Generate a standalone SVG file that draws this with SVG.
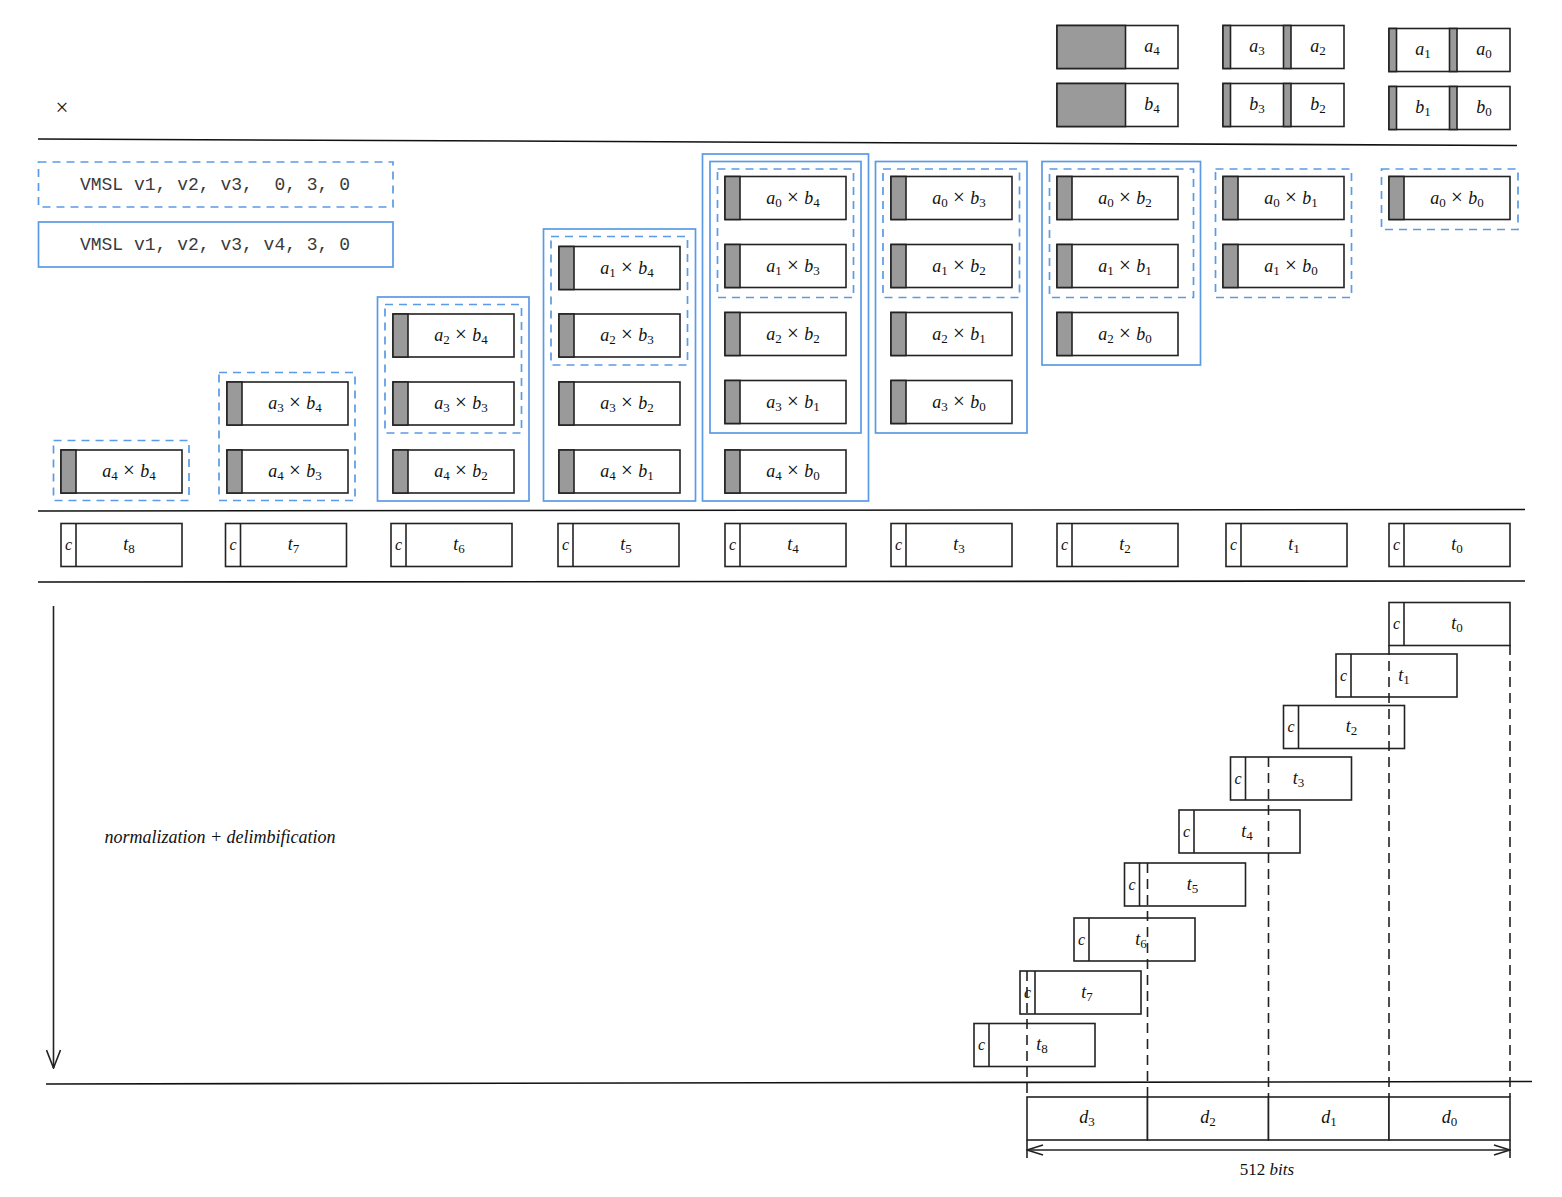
<svg xmlns="http://www.w3.org/2000/svg" width="1562" height="1197" viewBox="0 0 1562 1197">
<style>
.box{fill:#fff;stroke:#222;stroke-width:1.6}
.grey{fill:#9a9a9a;stroke:#222;stroke-width:1.6}
.ln{stroke:#222;stroke-width:1.6;fill:none}
.sep{stroke:#111;stroke-width:1.6;fill:none}
.blue{fill:none;stroke:#5b9ae4;stroke-width:1.7}
.bdash{fill:none;stroke:#5b9ae4;stroke-width:1.7;stroke-dasharray:8 6}
.kdash{fill:none;stroke:#222;stroke-width:1.6;stroke-dasharray:10 6}
.m{font-family:"Liberation Serif","DejaVu Serif",serif;font-size:18px;text-anchor:middle;fill:#111}
.i{font-style:italic}
.s{font-size:13px}
.x{font-size:21px}
.c{font-family:"Liberation Serif","DejaVu Serif",serif;font-size:16px;font-style:italic;text-anchor:middle;fill:#111}
.code{font-family:"Liberation Mono","DejaVu Sans Mono",monospace;font-size:18px;text-anchor:middle;fill:#3a3a3a;white-space:pre}
</style>
<defs>
<g id="pb"><rect class="box" x="0" y="0" width="121" height="43"/><rect class="grey" x="0" y="0" width="15" height="43"/></g>
<g id="tb"><rect class="box" x="0" y="0" width="121" height="43"/><line class="ln" x1="15" y1="0" x2="15" y2="43"/></g>
<marker id="ah" markerUnits="userSpaceOnUse" markerWidth="20" markerHeight="16" viewBox="0 0 20 16" refX="19" refY="8" orient="auto"><path d="M1,1 L19,8 L1,15" fill="none" stroke="#222" stroke-width="1.6"/></marker>
<marker id="ah2" markerUnits="userSpaceOnUse" markerWidth="18" markerHeight="12" viewBox="0 0 18 12" refX="17" refY="6" orient="auto-start-reverse"><path d="M1,1 L17,6 L1,11" fill="none" stroke="#222" stroke-width="1.6"/></marker>
</defs>
<rect x="0" y="0" width="1562" height="1197" fill="#fff"/>

<!-- operands -->
<g id="op-a4"><rect class="box" x="1057" y="25.5" width="121" height="43"/><rect class="grey" x="1057" y="25.5" width="68.5" height="43"/><text class="m" x="1152" y="52"><tspan class="i">a</tspan><tspan class="s" dy="3">4</tspan></text></g>
<g id="op-b4"><rect class="box" x="1057" y="83.5" width="121" height="43"/><rect class="grey" x="1057" y="83.5" width="68.5" height="43"/><text class="m" x="1152" y="110"><tspan class="i">b</tspan><tspan class="s" dy="3">4</tspan></text></g>
<g id="op-a3a2"><rect class="box" x="1223" y="25.5" width="121" height="43"/><rect class="grey" x="1223" y="25.5" width="7.5" height="43"/><rect class="grey" x="1283.5" y="25.5" width="7.5" height="43"/><text class="m" x="1257" y="52"><tspan class="i">a</tspan><tspan class="s" dy="3">3</tspan></text><text class="m" x="1318" y="52"><tspan class="i">a</tspan><tspan class="s" dy="3">2</tspan></text></g>
<g id="op-b3b2"><rect class="box" x="1223" y="83.5" width="121" height="43"/><rect class="grey" x="1223" y="83.5" width="7.5" height="43"/><rect class="grey" x="1283.5" y="83.5" width="7.5" height="43"/><text class="m" x="1257" y="110"><tspan class="i">b</tspan><tspan class="s" dy="3">3</tspan></text><text class="m" x="1318" y="110"><tspan class="i">b</tspan><tspan class="s" dy="3">2</tspan></text></g>
<g id="op-a1a0"><rect class="box" x="1389" y="28.5" width="121" height="43"/><rect class="grey" x="1389" y="28.5" width="7.5" height="43"/><rect class="grey" x="1449.5" y="28.5" width="7.5" height="43"/><text class="m" x="1423" y="55"><tspan class="i">a</tspan><tspan class="s" dy="3">1</tspan></text><text class="m" x="1484" y="55"><tspan class="i">a</tspan><tspan class="s" dy="3">0</tspan></text></g>
<g id="op-b1b0"><rect class="box" x="1389" y="86.5" width="121" height="43"/><rect class="grey" x="1389" y="86.5" width="7.5" height="43"/><rect class="grey" x="1449.5" y="86.5" width="7.5" height="43"/><text class="m" x="1423" y="113"><tspan class="i">b</tspan><tspan class="s" dy="3">1</tspan></text><text class="m" x="1484" y="113"><tspan class="i">b</tspan><tspan class="s" dy="3">0</tspan></text></g>
<g id="times"><text class="m" x="62" y="115" style="font-size:23px">×</text></g>

<!-- instructions -->
<g id="vmsl1"><rect class="bdash" x="38.5" y="162" width="354.5" height="45"/><text class="code" x="215" y="190" xml:space="preserve">VMSL v1, v2, v3,  0, 3, 0</text></g>
<g id="vmsl2"><rect class="blue" x="38.5" y="222" width="354.5" height="45"/><text class="code" x="215" y="250" xml:space="preserve">VMSL v1, v2, v3, v4, 3, 0</text></g>

<!-- blue groupings -->
<g id="groups">
<rect class="bdash" x="53.5" y="440.5" width="135.5" height="60"/>
<rect class="bdash" x="219" y="372.5" width="136" height="128"/>
<rect class="blue" x="377.5" y="297" width="151.5" height="204"/>
<rect class="bdash" x="385" y="304.5" width="136.5" height="128.5"/>
<rect class="blue" x="543.5" y="229" width="152" height="272"/>
<rect class="bdash" x="551" y="236.5" width="136.5" height="128.5"/>
<rect class="blue" x="702.5" y="154" width="166" height="347"/>
<rect class="blue" x="710" y="161.5" width="151" height="271.5"/>
<rect class="bdash" x="717.5" y="169" width="136" height="128.5"/>
<rect class="blue" x="875.5" y="161.5" width="151.5" height="271.5"/>
<rect class="bdash" x="883" y="169" width="136.5" height="128.5"/>
<rect class="blue" x="1042" y="161.5" width="158.5" height="203.5"/>
<rect class="bdash" x="1049.5" y="169" width="144" height="128.5"/>
<rect class="bdash" x="1215.5" y="169" width="136" height="128.5"/>
<rect class="bdash" x="1381.5" y="169" width="136.5" height="60.5"/>
</g>

<!-- products -->
<g id="p44"><use href="#pb" x="61" y="450"/><text class="m" x="129" y="477"><tspan class="i">a</tspan><tspan class="s" dy="3">4</tspan><tspan class="x" dy="-3"> × </tspan><tspan class="i">b</tspan><tspan class="s" dy="3">4</tspan></text></g>

<g id="p34"><use href="#pb" x="227" y="382"/><text class="m" x="295" y="409"><tspan class="i">a</tspan><tspan class="s" dy="3">3</tspan><tspan class="x" dy="-3"> × </tspan><tspan class="i">b</tspan><tspan class="s" dy="3">4</tspan></text></g>
<g id="p43"><use href="#pb" x="227" y="450"/><text class="m" x="295" y="477"><tspan class="i">a</tspan><tspan class="s" dy="3">4</tspan><tspan class="x" dy="-3"> × </tspan><tspan class="i">b</tspan><tspan class="s" dy="3">3</tspan></text></g>

<g id="p24"><use href="#pb" x="393" y="314"/><text class="m" x="461" y="341"><tspan class="i">a</tspan><tspan class="s" dy="3">2</tspan><tspan class="x" dy="-3"> × </tspan><tspan class="i">b</tspan><tspan class="s" dy="3">4</tspan></text></g>
<g id="p33"><use href="#pb" x="393" y="382"/><text class="m" x="461" y="409"><tspan class="i">a</tspan><tspan class="s" dy="3">3</tspan><tspan class="x" dy="-3"> × </tspan><tspan class="i">b</tspan><tspan class="s" dy="3">3</tspan></text></g>
<g id="p42"><use href="#pb" x="393" y="450"/><text class="m" x="461" y="477"><tspan class="i">a</tspan><tspan class="s" dy="3">4</tspan><tspan class="x" dy="-3"> × </tspan><tspan class="i">b</tspan><tspan class="s" dy="3">2</tspan></text></g>

<g id="p14"><use href="#pb" x="559" y="246.5"/><text class="m" x="627" y="273.5"><tspan class="i">a</tspan><tspan class="s" dy="3">1</tspan><tspan class="x" dy="-3"> × </tspan><tspan class="i">b</tspan><tspan class="s" dy="3">4</tspan></text></g>
<g id="p23"><use href="#pb" x="559" y="314"/><text class="m" x="627" y="341"><tspan class="i">a</tspan><tspan class="s" dy="3">2</tspan><tspan class="x" dy="-3"> × </tspan><tspan class="i">b</tspan><tspan class="s" dy="3">3</tspan></text></g>
<g id="p32"><use href="#pb" x="559" y="382"/><text class="m" x="627" y="409"><tspan class="i">a</tspan><tspan class="s" dy="3">3</tspan><tspan class="x" dy="-3"> × </tspan><tspan class="i">b</tspan><tspan class="s" dy="3">2</tspan></text></g>
<g id="p41"><use href="#pb" x="559" y="450"/><text class="m" x="627" y="477"><tspan class="i">a</tspan><tspan class="s" dy="3">4</tspan><tspan class="x" dy="-3"> × </tspan><tspan class="i">b</tspan><tspan class="s" dy="3">1</tspan></text></g>

<g id="p04"><use href="#pb" x="725" y="176.5"/><text class="m" x="793" y="203.5"><tspan class="i">a</tspan><tspan class="s" dy="3">0</tspan><tspan class="x" dy="-3"> × </tspan><tspan class="i">b</tspan><tspan class="s" dy="3">4</tspan></text></g>
<g id="p13"><use href="#pb" x="725" y="244.5"/><text class="m" x="793" y="271.5"><tspan class="i">a</tspan><tspan class="s" dy="3">1</tspan><tspan class="x" dy="-3"> × </tspan><tspan class="i">b</tspan><tspan class="s" dy="3">3</tspan></text></g>
<g id="p22"><use href="#pb" x="725" y="312.5"/><text class="m" x="793" y="339.5"><tspan class="i">a</tspan><tspan class="s" dy="3">2</tspan><tspan class="x" dy="-3"> × </tspan><tspan class="i">b</tspan><tspan class="s" dy="3">2</tspan></text></g>
<g id="p31"><use href="#pb" x="725" y="380.5"/><text class="m" x="793" y="407.5"><tspan class="i">a</tspan><tspan class="s" dy="3">3</tspan><tspan class="x" dy="-3"> × </tspan><tspan class="i">b</tspan><tspan class="s" dy="3">1</tspan></text></g>
<g id="p40"><use href="#pb" x="725" y="450"/><text class="m" x="793" y="477"><tspan class="i">a</tspan><tspan class="s" dy="3">4</tspan><tspan class="x" dy="-3"> × </tspan><tspan class="i">b</tspan><tspan class="s" dy="3">0</tspan></text></g>

<g id="p03"><use href="#pb" x="891" y="176.5"/><text class="m" x="959" y="203.5"><tspan class="i">a</tspan><tspan class="s" dy="3">0</tspan><tspan class="x" dy="-3"> × </tspan><tspan class="i">b</tspan><tspan class="s" dy="3">3</tspan></text></g>
<g id="p12"><use href="#pb" x="891" y="244.5"/><text class="m" x="959" y="271.5"><tspan class="i">a</tspan><tspan class="s" dy="3">1</tspan><tspan class="x" dy="-3"> × </tspan><tspan class="i">b</tspan><tspan class="s" dy="3">2</tspan></text></g>
<g id="p21"><use href="#pb" x="891" y="312.5"/><text class="m" x="959" y="339.5"><tspan class="i">a</tspan><tspan class="s" dy="3">2</tspan><tspan class="x" dy="-3"> × </tspan><tspan class="i">b</tspan><tspan class="s" dy="3">1</tspan></text></g>
<g id="p30"><use href="#pb" x="891" y="380.5"/><text class="m" x="959" y="407.5"><tspan class="i">a</tspan><tspan class="s" dy="3">3</tspan><tspan class="x" dy="-3"> × </tspan><tspan class="i">b</tspan><tspan class="s" dy="3">0</tspan></text></g>

<g id="p02"><use href="#pb" x="1057" y="176.5"/><text class="m" x="1125" y="203.5"><tspan class="i">a</tspan><tspan class="s" dy="3">0</tspan><tspan class="x" dy="-3"> × </tspan><tspan class="i">b</tspan><tspan class="s" dy="3">2</tspan></text></g>
<g id="p11"><use href="#pb" x="1057" y="244.5"/><text class="m" x="1125" y="271.5"><tspan class="i">a</tspan><tspan class="s" dy="3">1</tspan><tspan class="x" dy="-3"> × </tspan><tspan class="i">b</tspan><tspan class="s" dy="3">1</tspan></text></g>
<g id="p20"><use href="#pb" x="1057" y="312.5"/><text class="m" x="1125" y="339.5"><tspan class="i">a</tspan><tspan class="s" dy="3">2</tspan><tspan class="x" dy="-3"> × </tspan><tspan class="i">b</tspan><tspan class="s" dy="3">0</tspan></text></g>

<g id="p01"><use href="#pb" x="1223" y="176.5"/><text class="m" x="1291" y="203.5"><tspan class="i">a</tspan><tspan class="s" dy="3">0</tspan><tspan class="x" dy="-3"> × </tspan><tspan class="i">b</tspan><tspan class="s" dy="3">1</tspan></text></g>
<g id="p10"><use href="#pb" x="1223" y="244.5"/><text class="m" x="1291" y="271.5"><tspan class="i">a</tspan><tspan class="s" dy="3">1</tspan><tspan class="x" dy="-3"> × </tspan><tspan class="i">b</tspan><tspan class="s" dy="3">0</tspan></text></g>

<g id="p00"><use href="#pb" x="1389" y="176.5"/><text class="m" x="1457" y="203.5"><tspan class="i">a</tspan><tspan class="s" dy="3">0</tspan><tspan class="x" dy="-3"> × </tspan><tspan class="i">b</tspan><tspan class="s" dy="3">0</tspan></text></g>

<!-- t row -->
<g id="t8"><use href="#tb" x="61" y="523.5"/><text class="c" x="68.5" y="550">c</text><text class="m" x="129" y="550"><tspan class="i">t</tspan><tspan class="s" dy="3">8</tspan></text></g>
<g id="t7"><use href="#tb" x="225.5" y="523.5"/><text class="c" x="233" y="550">c</text><text class="m" x="293.5" y="550"><tspan class="i">t</tspan><tspan class="s" dy="3">7</tspan></text></g>
<g id="t6"><use href="#tb" x="391" y="523.5"/><text class="c" x="398.5" y="550">c</text><text class="m" x="459" y="550"><tspan class="i">t</tspan><tspan class="s" dy="3">6</tspan></text></g>
<g id="t5"><use href="#tb" x="558" y="523.5"/><text class="c" x="565.5" y="550">c</text><text class="m" x="626" y="550"><tspan class="i">t</tspan><tspan class="s" dy="3">5</tspan></text></g>
<g id="t4"><use href="#tb" x="725" y="523.5"/><text class="c" x="732.5" y="550">c</text><text class="m" x="793" y="550"><tspan class="i">t</tspan><tspan class="s" dy="3">4</tspan></text></g>
<g id="t3"><use href="#tb" x="891" y="523.5"/><text class="c" x="898.5" y="550">c</text><text class="m" x="959" y="550"><tspan class="i">t</tspan><tspan class="s" dy="3">3</tspan></text></g>
<g id="t2"><use href="#tb" x="1057" y="523.5"/><text class="c" x="1064.5" y="550">c</text><text class="m" x="1125" y="550"><tspan class="i">t</tspan><tspan class="s" dy="3">2</tspan></text></g>
<g id="t1"><use href="#tb" x="1226" y="523.5"/><text class="c" x="1233.5" y="550">c</text><text class="m" x="1294" y="550"><tspan class="i">t</tspan><tspan class="s" dy="3">1</tspan></text></g>
<g id="t0"><use href="#tb" x="1389" y="523.5"/><text class="c" x="1396.5" y="550">c</text><text class="m" x="1457" y="550"><tspan class="i">t</tspan><tspan class="s" dy="3">0</tspan></text></g>

<!-- label -->
<g id="norm"><text class="m i" x="220" y="843" style="font-size:18px">normalization + delimbification</text></g>

<!-- staircase -->
<g id="s0"><use href="#tb" x="1389" y="602.5"/><text class="c" x="1396.5" y="629">c</text><text class="m" x="1457" y="629"><tspan class="i">t</tspan><tspan class="s" dy="3">0</tspan></text></g>
<g id="s1"><use href="#tb" x="1336" y="654"/><text class="c" x="1343.5" y="680.5">c</text><text class="m" x="1404" y="680.5"><tspan class="i">t</tspan><tspan class="s" dy="3">1</tspan></text></g>
<g id="s2"><use href="#tb" x="1283.5" y="705.5"/><text class="c" x="1291" y="732">c</text><text class="m" x="1351.5" y="732"><tspan class="i">t</tspan><tspan class="s" dy="3">2</tspan></text></g>
<g id="s3"><use href="#tb" x="1230.5" y="757"/><text class="c" x="1238" y="783.5">c</text><text class="m" x="1298.5" y="783.5"><tspan class="i">t</tspan><tspan class="s" dy="3">3</tspan></text></g>
<g id="s4"><use href="#tb" x="1179" y="810"/><text class="c" x="1186.5" y="836.5">c</text><text class="m" x="1247" y="836.5"><tspan class="i">t</tspan><tspan class="s" dy="3">4</tspan></text></g>
<g id="s5"><use href="#tb" x="1124.5" y="863"/><text class="c" x="1132" y="889.5">c</text><text class="m" x="1192.5" y="889.5"><tspan class="i">t</tspan><tspan class="s" dy="3">5</tspan></text></g>
<g id="s6"><use href="#tb" x="1074" y="918"/><text class="c" x="1081.5" y="944.5">c</text><text class="m" x="1141" y="944.5"><tspan class="i">t</tspan><tspan class="s" dy="3">6</tspan></text></g>
<g id="s7"><use href="#tb" x="1020" y="971"/><text class="c" x="1027.5" y="997.5">c</text><text class="m" x="1087" y="997.5"><tspan class="i">t</tspan><tspan class="s" dy="3">7</tspan></text></g>
<g id="s8"><use href="#tb" x="974" y="1023.5"/><text class="c" x="981.5" y="1050">c</text><text class="m" x="1042" y="1050"><tspan class="i">t</tspan><tspan class="s" dy="3">8</tspan></text></g>

<!-- result digits -->
<g id="d3"><rect class="box" x="1027" y="1097" width="120.5" height="43"/><text class="m" x="1087" y="1123"><tspan class="i">d</tspan><tspan class="s" dy="3">3</tspan></text></g>
<g id="d2"><rect class="box" x="1147.5" y="1097" width="121" height="43"/><text class="m" x="1208" y="1123"><tspan class="i">d</tspan><tspan class="s" dy="3">2</tspan></text></g>
<g id="d1"><rect class="box" x="1268.5" y="1097" width="120.5" height="43"/><text class="m" x="1329" y="1123"><tspan class="i">d</tspan><tspan class="s" dy="3">1</tspan></text></g>
<g id="d0"><rect class="box" x="1389" y="1097" width="121" height="43"/><text class="m" x="1449.5" y="1123"><tspan class="i">d</tspan><tspan class="s" dy="3">0</tspan></text></g>
<g id="bits"><text class="m" x="1267" y="1175" style="font-size:17px">512 <tspan class="i">bits</tspan></text></g>

<!-- connectors / rules -->
<g id="connectors">
<line class="sep" x1="38" y1="139" x2="1517" y2="145.5"/>
<line class="sep" x1="38" y1="511" x2="1525" y2="509.5"/>
<line class="sep" x1="38" y1="582" x2="1525" y2="581"/>
<line class="sep" x1="46" y1="1084" x2="1532" y2="1081.5"/>
<line class="ln" x1="53.5" y1="606" x2="53.5" y2="1068" marker-end="url(#ah)"/>
<line class="kdash" x1="1510" y1="645" x2="1510" y2="1097"/>
<line class="kdash" x1="1389" y1="645" x2="1389" y2="1097"/>
<line class="kdash" x1="1268.5" y1="757" x2="1268.5" y2="1097"/>
<line class="kdash" x1="1147.5" y1="863" x2="1147.5" y2="1097"/>
<line class="kdash" x1="1027" y1="971" x2="1027" y2="1097"/>
<line class="ln" x1="1027" y1="1140" x2="1027" y2="1158"/>
<line class="ln" x1="1510" y1="1140" x2="1510" y2="1158"/>
<line class="ln" x1="1027" y1="1150" x2="1510" y2="1150" marker-start="url(#ah2)" marker-end="url(#ah2)"/>
</g>
</svg>
